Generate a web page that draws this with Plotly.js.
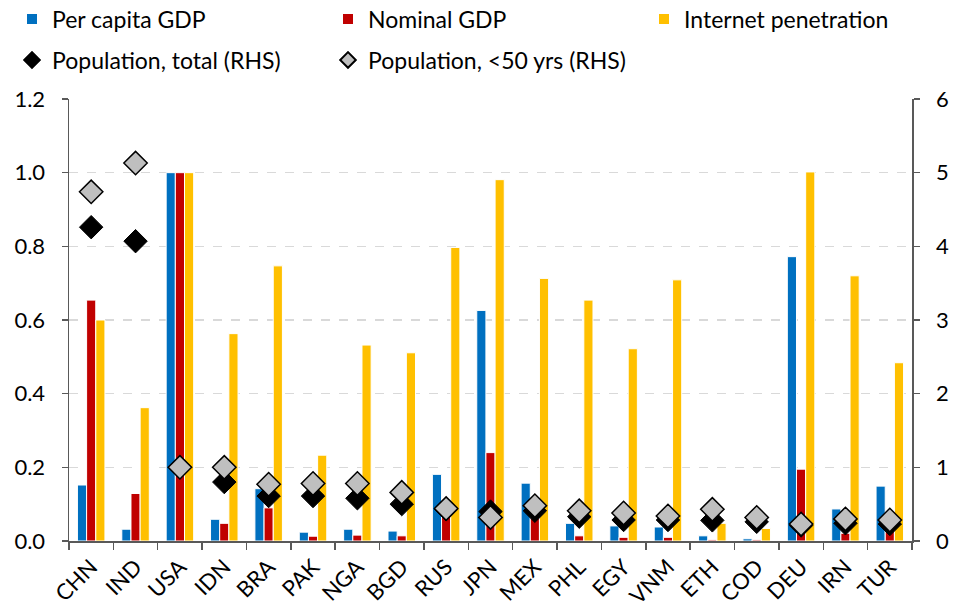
<!DOCTYPE html>
<html>
<head>
<meta charset="utf-8">
<script src="https://cdn.plot.ly/plotly-3.0.1.min.js"></script>
<style>html,body{margin:0;padding:0;background:#fff}#chart{width:953px;height:609px}</style>
</head>
<body>
<div id="chart"></div>
<script>
var countries = ['CHN','IND','USA','IDN','BRA','PAK','NGA','BGD','RUS','JPN','MEX','PHL','EGY','VNM','ETH','COD','DEU','IRN','TUR'];
var perCapitaGDP = [0.152,0.032,1.0,0.059,0.142,0.024,0.032,0.027,0.181,0.626,0.157,0.048,0.041,0.038,0.014,0.006,0.772,0.087,0.149];
var nominalGDP = [0.654,0.129,1.0,0.048,0.090,0.013,0.016,0.014,0.080,0.240,0.062,0.014,0.010,0.010,0.003,0.003,0.195,0.021,0.040];
var internetPenetration = [0.600,0.362,1.0,0.563,0.747,0.233,0.532,0.511,0.797,0.981,0.713,0.654,0.522,0.709,0.048,0.034,1.002,0.720,0.484];
var popTotal = [4.26,4.07,1.0,0.80,0.61,0.61,0.58,0.50,0.43,0.40,0.41,0.33,0.285,0.285,0.28,0.26,0.21,0.24,0.23];
var popUnder50 = [4.74,5.13,1.0,1.0,0.77,0.78,0.78,0.66,0.44,0.32,0.48,0.41,0.38,0.34,0.43,0.32,0.23,0.30,0.285];
var leftTicks = [0,0.2,0.4,0.6,0.8,1.0,1.2];
var rightTicks = [0,1,2,3,4,5,6];

var FONT = 'Lato, "Liberation Sans", sans-serif';
var traces = [
  {type:'bar', name:'Per capita GDP', x:countries, y:perCapitaGDP, legend:'legend',
   marker:{color:'#0070C0', line:{color:'#ffffff', width:1}}},
  {type:'bar', name:'Nominal GDP', x:countries, y:nominalGDP, legend:'legend2',
   marker:{color:'#C00000', line:{color:'#ffffff', width:1}}},
  {type:'bar', name:'Internet penetration', x:countries, y:internetPenetration, legend:'legend3',
   marker:{color:'#FFC000', line:{color:'#ffffff', width:1}}},
  {type:'scatter', mode:'markers', name:'Population, total (RHS)', x:countries, y:popTotal, yaxis:'y2', legend:'legend4',
   marker:{symbol:'diamond', size:18, color:'#000000', line:{color:'#000000', width:1}}},
  {type:'scatter', mode:'markers', name:'Population, <50 yrs (RHS)', x:countries, y:popUnder50, yaxis:'y2', legend:'legend5',
   marker:{symbol:'diamond', size:18, color:'#BFBFBF', line:{color:'#000000', width:1.5}}}
];

var PL = 69, PT = 99, PW = 843, PH = 442;
function leg(px, py){
  return {x:(px-PL)/PW, y:(PT+PH-py)/PH, xref:'paper', yref:'paper', xanchor:'left', yanchor:'middle',
          orientation:'h', font:{family:FONT, size:23, color:'#000'}, bgcolor:'rgba(0,0,0,0)',
          itemsizing:'constant', borderwidth:0};
}

var axisCol = '#595959';
var layout = {
  width:953, height:609,
  margin:{l:PL, r:953-PL-PW, t:PT, b:609-PT-PH, pad:0, autoexpand:false},
  paper_bgcolor:'#ffffff', plot_bgcolor:'#ffffff',
  font:{family:FONT, size:21, color:'#000'},
  barmode:'group', bargap:0.38, bargroupgap:0,
  showlegend:true,
  legend:leg(12,19), legend2:leg(328,19), legend3:leg(644,19),
  legend4:leg(12,60), legend5:leg(328,60),
  xaxis:{type:'category', range:[-0.5, countries.length-0.5], showline:true, linecolor:axisCol, linewidth:1.5,
         ticks:'outside', tickson:'boundaries', ticklen:7, tickcolor:axisCol, tickwidth:1.5,
         ticklabelstandoff:3,
         tickangle:-45, tickfont:{family:FONT, size:22, color:'#000'}, showgrid:false},
  yaxis:{range:[0,1.2], tickvals:leftTicks, ticktext:leftTicks.map(function(v){return v.toFixed(1);}),
         showline:true, linecolor:axisCol, linewidth:1.5, ticks:'outside', ticklen:6, tickcolor:axisCol, tickwidth:1.5,
         ticklabelstandoff:12,
         showgrid:true, gridcolor:'#d9d9d9', griddash:'dash', gridwidth:1.2, zeroline:false,
         tickfont:{family:FONT, size:22, color:'#000'}},
  yaxis2:{range:[0,6], tickvals:rightTicks, overlaying:'y', side:'right',
          showline:true, linecolor:axisCol, linewidth:1.5, ticks:'outside', ticklen:6, tickcolor:axisCol, tickwidth:1.5,
          ticklabelstandoff:12,
          showgrid:false, zeroline:false, tickfont:{family:FONT, size:22, color:'#000'}}
};

Plotly.newPlot('chart', traces, layout, {displayModeBar:false, staticPlot:true});
</script>
</body>
</html>
